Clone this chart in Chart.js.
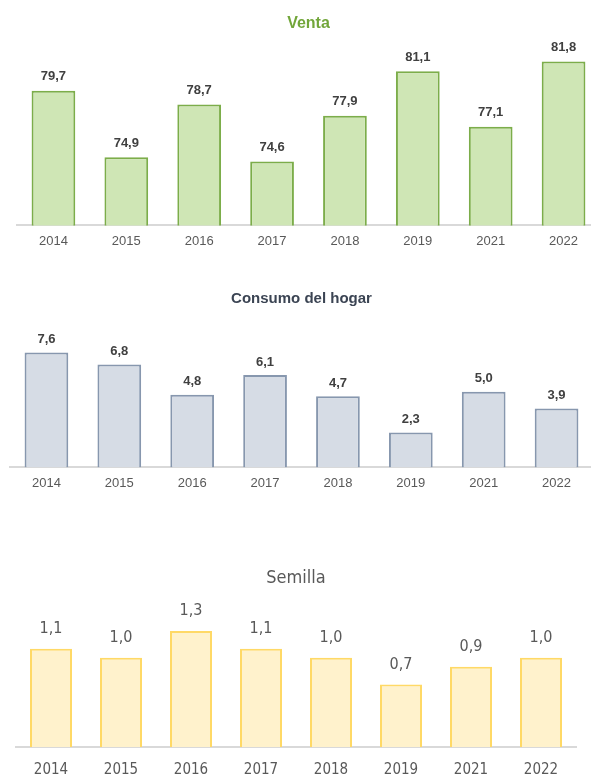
<!DOCTYPE html>
<html>
<head>
<meta charset="utf-8">
<script src="https://cdn.jsdelivr.net/npm/chart.js@4/dist/chart.umd.min.js"></script>
<style>
  html, body { margin: 0; padding: 0; background: #fff; overflow: hidden; width: 591px; height: 778px; }
  .box { position: absolute; left: 0; width: 600px; }
</style>
</head>
<body>
<div class="box" style="top:0;height:257px"><canvas id="venta"></canvas></div>
<div class="box" style="top:270px;height:229px"><canvas id="consumo"></canvas></div>
<div class="box" style="top:555px;height:238px"><canvas id="semilla"></canvas></div>
<script>
const years = ["2014", "2015", "2016", "2017", "2018", "2019", "2021", "2022"];
const venta = [79.7, 74.9, 78.7, 74.6, 77.9, 81.1, 77.1, 81.8];
const consumo = [7.6, 6.8, 4.8, 6.1, 4.7, 2.3, 5.0, 3.9];
const semilla = [1.1, 1.0, 1.3, 1.1, 1.0, 0.7, 0.9, 1.0];

const narrow = '"DejaVu Sans Condensed", "Liberation Sans Narrow", "Arial Narrow", sans-serif';
const sans = '"Liberation Sans", Arial, sans-serif';

// draws the value above each bar, with a comma as decimal mark
const valueLabels = {
  id: "valueLabels",
  afterDatasetsDraw(chart, args, opts) {
    const ctx = chart.ctx;
    const meta = chart.getDatasetMeta(0);
    ctx.save();
    ctx.font = opts.font;
    ctx.fillStyle = opts.color;
    ctx.textAlign = "center";
    ctx.textBaseline = "middle";
    meta.data.forEach(function (bar, i) {
      let v = chart.data.datasets[0].data[i];
      ctx.fillText(v.toFixed(1).replace(".", ","), bar.x, bar.y - opts.offset);
    });
    ctx.restore();
  },
};

function makeChart(id, values, cfg) {
  return new Chart(document.getElementById(id), {
    type: "bar",
    data: {
      labels: years,
      datasets: [
        {
          data: values,
          backgroundColor: cfg.fill,
          borderColor: cfg.line,
          borderWidth: 2,
          categoryPercentage: 1,
          barPercentage: 0.6,
        },
      ],
    },
    options: {
      responsive: true,
      maintainAspectRatio: false,
      animation: false,
      layout: { padding: cfg.padding },
      scales: {
        x: {
          grid: { display: false, drawTicks: false },
          border: { color: "#d9d9d9", width: 2 },
          ticks: { color: "#595959", font: cfg.tickFont, padding: cfg.tickPad },
        },
        y: { display: false, min: cfg.min, max: cfg.max },
      },
      plugins: {
        legend: { display: false },
        tooltip: { enabled: false },
        title: {
          display: true,
          text: cfg.title,
          color: cfg.titleColor,
          font: cfg.titleFont,
          padding: cfg.titlePad,
        },
        valueLabels: { font: cfg.labelFont, color: cfg.labelColor, offset: cfg.labelOffset },
      },
    },
    plugins: [valueLabels],
  });
}

makeChart("venta", venta, {
  fill: "#cfe6b5",
  line: "#7cad4a",
  min: 70,
  max: 83.7,
  padding: { left: 17, right: 0, top: 0, bottom: 0 },
  tickFont: { family: sans, size: 13 },
  tickPad: 8,
  title: "Venta",
  titleColor: "#72a63a",
  titleFont: { family: sans, size: 16, weight: "bold" },
  titlePad: { top: 14, bottom: 2 },
  labelFont: "bold 13px " + sans,
  labelColor: "#404040",
  labelOffset: 14,
});

makeChart("consumo", consumo, {
  fill: "#d6dce5",
  line: "#8797ae",
  min: 0,
  max: 10.4,
  padding: { left: 10, right: 7, top: 0, bottom: 0 },
  tickFont: { family: sans, size: 13 },
  tickPad: 8,
  title: "Consumo del hogar",
  titleColor: "#3b4453",
  titleFont: { family: sans, size: 15, weight: "bold" },
  titlePad: { top: 20, bottom: 2 },
  labelFont: "bold 13px " + sans,
  labelColor: "#404040",
  labelOffset: 13,
});

makeChart("semilla", semilla, {
  fill: "#fff2cc",
  line: "#ffd966",
  min: 0,
  max: 1.73,
  padding: { left: 16, right: 24, top: 0, bottom: 0 },
  tickFont: { family: narrow, size: 15 },
  tickPad: 14,
  title: "Semilla",
  titleColor: "#595959",
  titleFont: { family: narrow, size: 18, weight: "normal" },
  titlePad: { top: 13, bottom: 3 },
  labelFont: "16px " + narrow,
  labelColor: "#595959",
  labelOffset: 20,
});
</script>
</body>
</html>
